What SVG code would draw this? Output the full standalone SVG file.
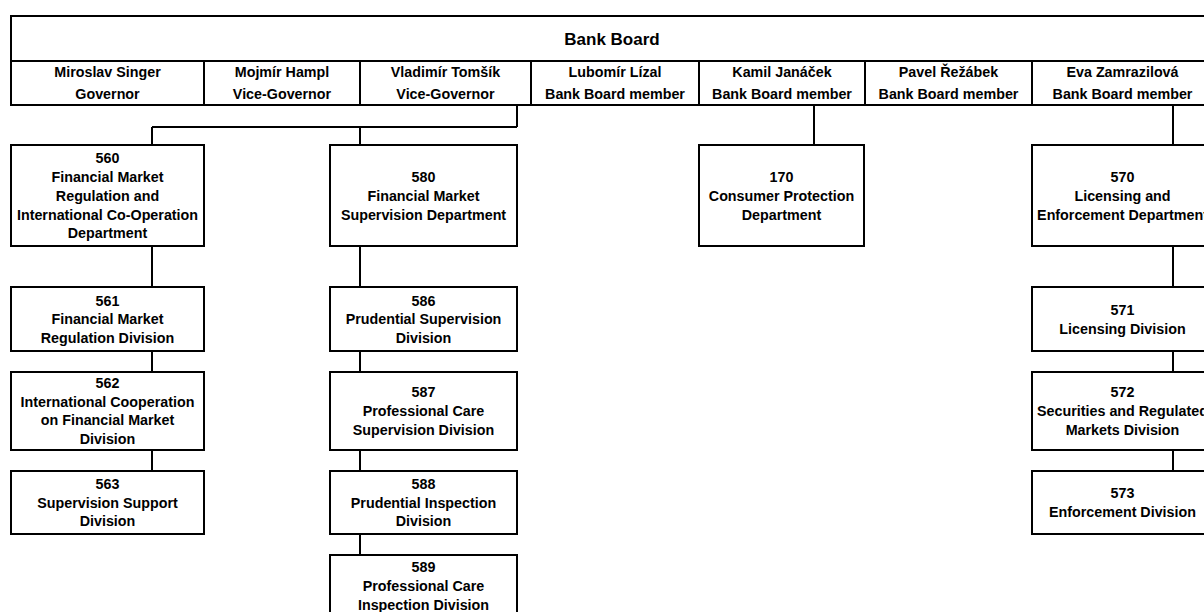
<svg xmlns="http://www.w3.org/2000/svg" width="1204" height="612" viewBox="0 0 1204 612">
  <style>
    .box { fill: #ffffff; stroke: #000000; stroke-width: 2; }
    .line { fill: none; stroke: #000000; stroke-width: 2; }
    text { font-family: "Liberation Sans", Arial, sans-serif; font-weight: bold; font-size: 14.3px; fill: #000000; text-anchor: middle; }
    .title { font-size: 17px; }
  </style>
  <rect x="0" y="0" width="1204" height="612" fill="#ffffff"/>

  <!-- Bank Board with member columns -->
  <g id="bank-board">
    <rect class="box" x="11" y="16" width="1202" height="89"/>
    <path class="line" d="M11 61H1213 M204 61V105 M360 61V105 M531 61V105 M699 61V105 M865 61V105 M1032 61V105"/>
    <text class="title" x="612" y="45">Bank Board</text>
    <text x="107.5" y="77">Miroslav Singer</text>
    <text x="107.5" y="99">Governor</text>
    <text x="282" y="77">Mojmír Hampl</text>
    <text x="282" y="99">Vice-Governor</text>
    <text x="445.5" y="77">Vladimír Tomšík</text>
    <text x="445.5" y="99">Vice-Governor</text>
    <text x="615" y="77">Lubomír Lízal</text>
    <text x="615" y="99">Bank Board member</text>
    <text x="782" y="77">Kamil Janáček</text>
    <text x="782" y="99">Bank Board member</text>
    <text x="948.5" y="77">Pavel Řežábek</text>
    <text x="948.5" y="99">Bank Board member</text>
    <text x="1122.5" y="77">Eva Zamrazilová</text>
    <text x="1122.5" y="99">Bank Board member</text>
  </g>

  <!-- Connectors -->
  <g id="connectors">
    <path class="line" d="M517 105V127 M152 127H517 M152 127V145 M360 127V145"/>
    <path class="line" d="M814 105V145"/>
    <path class="line" d="M1173 105V145"/>
    <path class="line" d="M152 246V287 M152 351V372 M152 450V471"/>
    <path class="line" d="M360 246V287 M360 351V372 M360 450V471 M360 534V555"/>
    <path class="line" d="M1173 246V287 M1173 351V372 M1173 450V471"/>
  </g>

  <!-- Departments and divisions -->
  <g id="n560">
    <rect class="box" x="11" y="145" width="193" height="101"/>
    <text x="107.5" y="163">560</text>
    <text x="107.5" y="182">Financial Market</text>
    <text x="107.5" y="201">Regulation and</text>
    <text x="107.5" y="220">International Co-Operation</text>
    <text x="107.5" y="238">Department</text>
  </g>
  <g id="n561">
    <rect class="box" x="11" y="287" width="193" height="64"/>
    <text x="107.5" y="306">561</text>
    <text x="107.5" y="324">Financial Market</text>
    <text x="107.5" y="343">Regulation Division</text>
  </g>
  <g id="n562">
    <rect class="box" x="11" y="372" width="193" height="78"/>
    <text x="107.5" y="388">562</text>
    <text x="107.5" y="407">International Cooperation</text>
    <text x="107.5" y="425">on Financial Market</text>
    <text x="107.5" y="444">Division</text>
  </g>
  <g id="n563">
    <rect class="box" x="11" y="471" width="193" height="63"/>
    <text x="107.5" y="489">563</text>
    <text x="107.5" y="507.5">Supervision Support</text>
    <text x="107.5" y="526">Division</text>
  </g>

  <g id="n580">
    <rect class="box" x="330" y="145" width="187" height="101"/>
    <text x="423.5" y="182">580</text>
    <text x="423.5" y="201">Financial Market</text>
    <text x="423.5" y="220">Supervision Department</text>
  </g>
  <g id="n586">
    <rect class="box" x="330" y="287" width="187" height="64"/>
    <text x="423.5" y="306">586</text>
    <text x="423.5" y="324">Prudential Supervision</text>
    <text x="423.5" y="343">Division</text>
  </g>
  <g id="n587">
    <rect class="box" x="330" y="372" width="187" height="78"/>
    <text x="423.5" y="397">587</text>
    <text x="423.5" y="416">Professional Care</text>
    <text x="423.5" y="434.5">Supervision Division</text>
  </g>
  <g id="n588">
    <rect class="box" x="330" y="471" width="187" height="63"/>
    <text x="423.5" y="489">588</text>
    <text x="423.5" y="507.5">Prudential Inspection</text>
    <text x="423.5" y="526">Division</text>
  </g>
  <g id="n589">
    <rect class="box" x="330" y="555" width="187" height="62"/>
    <text x="423.5" y="572">589</text>
    <text x="423.5" y="591">Professional Care</text>
    <text x="423.5" y="609.5">Inspection Division</text>
  </g>

  <g id="n170">
    <rect class="box" x="699" y="145" width="165" height="101"/>
    <text x="781.5" y="182">170</text>
    <text x="781.5" y="201">Consumer Protection</text>
    <text x="781.5" y="220">Department</text>
  </g>

  <g id="n570">
    <rect class="box" x="1032" y="145" width="181" height="101"/>
    <text x="1122.5" y="182">570</text>
    <text x="1122.5" y="201">Licensing and</text>
    <text x="1122.5" y="220">Enforcement Department</text>
  </g>
  <g id="n571">
    <rect class="box" x="1032" y="287" width="181" height="64"/>
    <text x="1122.5" y="315">571</text>
    <text x="1122.5" y="334">Licensing Division</text>
  </g>
  <g id="n572">
    <rect class="box" x="1032" y="372" width="181" height="78"/>
    <text x="1122.5" y="397">572</text>
    <text x="1122.5" y="416">Securities and Regulated</text>
    <text x="1122.5" y="434.5">Markets Division</text>
  </g>
  <g id="n573">
    <rect class="box" x="1032" y="471" width="181" height="63"/>
    <text x="1122.5" y="498">573</text>
    <text x="1122.5" y="517">Enforcement Division</text>
  </g>
</svg>
